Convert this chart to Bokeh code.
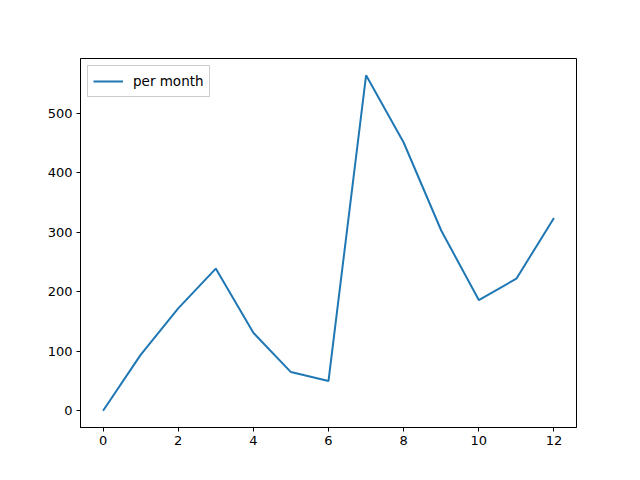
from bokeh.plotting import figure
from bokeh.models import Range1d, FixedTicker
from bokeh.embed import file_html
from bokeh.resources import INLINE

months = list(range(13))
per_month = [0, 94, 172, 239, 131, 65, 50, 564, 451, 303, 186, 222, 324]

p = figure(width=624, height=464, output_backend="svg", toolbar_location=None,
           x_range=Range1d(-0.6, 12.6), y_range=Range1d(-28.2, 592.2),
           min_border_left=80, min_border_right=48, min_border_top=58, min_border_bottom=37)
p.line(months, per_month, line_color="#1f77b4", line_width=2, legend_label="per month")

p.xgrid.visible = False
p.ygrid.visible = False
p.outline_line_color = "black"
p.outline_line_width = 1
p.xaxis.ticker = FixedTicker(ticks=[0, 2, 4, 6, 8, 10, 12])
p.yaxis.ticker = FixedTicker(ticks=[0, 100, 200, 300, 400, 500])
for ax in (p.xaxis[0], p.yaxis[0]):
    ax.axis_line_color = "black"
    ax.major_tick_line_color = "black"
    ax.major_tick_out = 4
    ax.major_tick_in = 0
    ax.minor_tick_line_color = None
    ax.major_label_text_font = "DejaVu Sans"
    ax.major_label_text_font_size = "13px"
    ax.major_label_text_color = "black"
    ax.major_label_standoff = 4

p.legend.location = "top_left"
p.legend.label_text_font = "DejaVu Sans"
p.legend.label_text_font_size = "13.5px"
p.legend.label_text_color = "black"
p.legend.border_line_color = "#cccccc"
p.legend.border_line_alpha = 1
p.legend.margin = 7
p.legend.padding = 5
p.legend.spacing = 0
p.legend.glyph_width = 30
p.legend.label_standoff = 10
p.legend.background_fill_alpha = 0.8

open("out.html", "w").write(file_html(p, INLINE))
